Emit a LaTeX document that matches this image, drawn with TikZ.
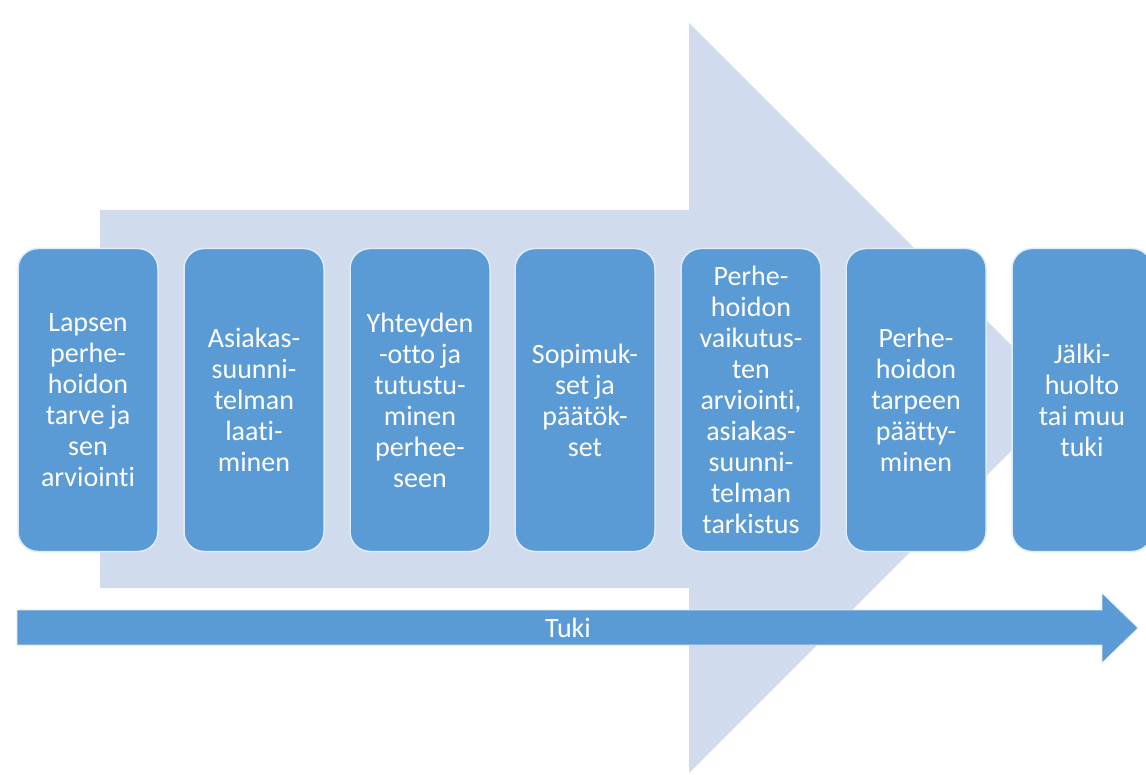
\documentclass[tikz,border=0pt]{standalone}
\usepackage{fontspec}
\setmainfont{Carlito}[Ligatures=NoCommon]
\definecolor{boxblue}{RGB}{91,155,213}
\definecolor{boxedge}{RGB}{222,235,248}
\definecolor{paleblue}{RGB}{208,219,237}
\tikzset{
  stepbox/.style={draw=boxedge, line width=1.5pt, fill=boxblue, rounded corners=20pt,
    minimum width=140pt, minimum height=303pt, text width=134pt, align=center,
    inner sep=0pt, text=white, font=\fontsize{28}{31}\selectfont,
    execute at begin node={\spaceskip=0.2em\relax}},
  bigarrow/.style={fill=paleblue, draw=none},
  tukiarrow/.style={fill=boxblue, draw=boxedge, line width=0.8pt},
  tukilabel/.style={text=white, font=\fontsize{28}{31}\selectfont, inner sep=0pt}
}
\begin{document}
\begin{tikzpicture}[x=1pt,y=-1pt]
\useasboundingbox (0,0) rectangle (1146,775);
\fill[white] (0,0) rectangle (1146,775);
% large pale background arrow
\path[bigarrow] (100,210) -- (689,210) -- (689,23) -- (1064,398) -- (689,773) -- (689,588) -- (100,588) -- cycle;
% process steps
\node[stepbox] (s1) at (88,400) {Lapsen\\perhe-\\hoidon\\tarve ja\\sen\\arviointi};
\node[stepbox] (s2) at (254,400) {Asiakas-\\suunni-\\telman\\laati-\\minen};
\node[stepbox] (s3) at (420,400) {Yhteyden\\-otto ja\\tutustu-\\minen\\perhee-\\seen};
\node[stepbox] (s4) at (585,400) {Sopimuk-\\set ja\\päätök-\\set};
\node[stepbox] (s5) at (751,400) {Perhe-\\hoidon\\vaikutus-\\ten\\arviointi,\\asiakas-\\suunni-\\telman\\tarkistus};
\node[stepbox] (s6) at (916,400) {Perhe-\\hoidon\\tarpeen\\päätty-\\minen};
\node[stepbox] (s7) at (1082,400) {Jälki-\\huolto\\tai muu\\tuki};
% Tuki arrow
\path[tukiarrow] (17,610) -- (1102,610) -- (1102,593) -- (1138,628) -- (1102,663) -- (1102,645) -- (17,645) -- cycle;
\node[tukilabel] (tuki) at (568,628) {Tuki};
\end{tikzpicture}
\end{document}
